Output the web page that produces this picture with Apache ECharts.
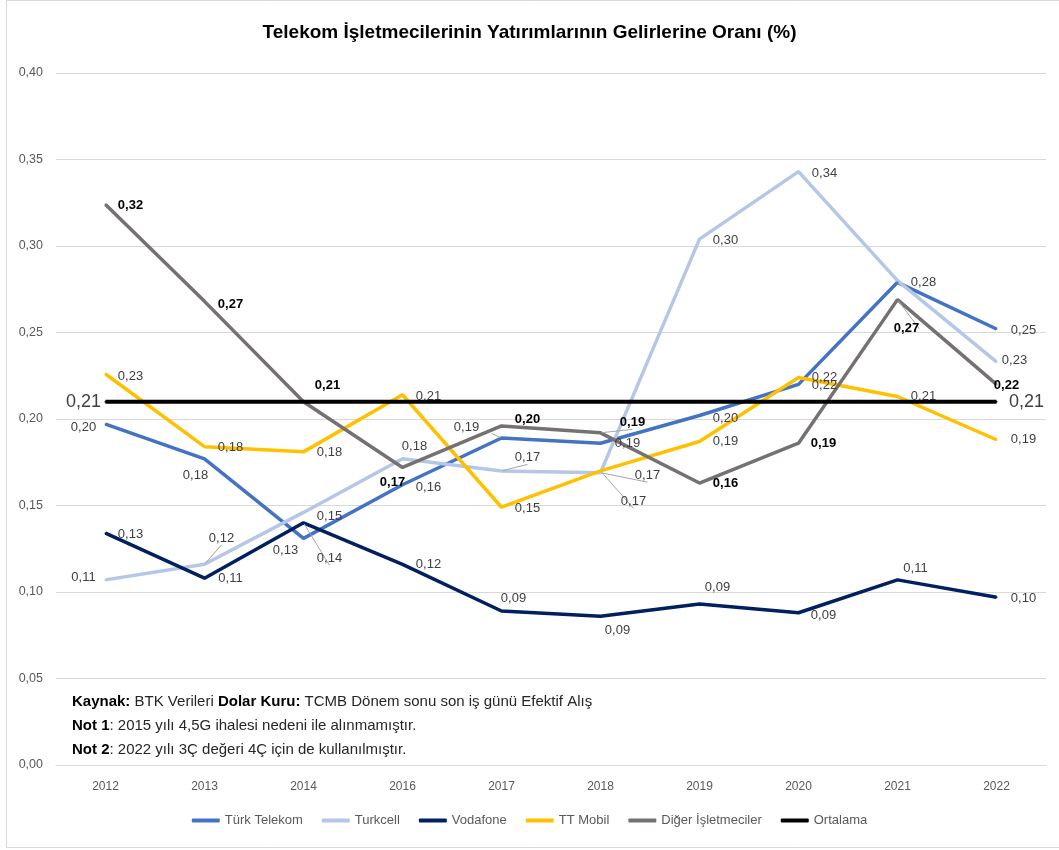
<!DOCTYPE html>
<html>
<head>
<meta charset="utf-8">
<script src="https://cdn.jsdelivr.net/npm/echarts@6/dist/echarts.min.js"></script>
<style>
  html, body { margin: 0; padding: 0; background: #fff; }
  #chart { width: 1059px; height: 850px; }
</style>
</head>
<body>
<div id="chart"></div>
<script>
// yıllar (2015 yok)
var years = ['2012', '2013', '2014', '2016', '2017', '2018', '2019', '2020', '2021', '2022'];

var turkTelekom = [0.197, 0.177, 0.131, 0.162, 0.189, 0.186, 0.202, 0.220, 0.279, 0.252];
var turkcell    = [0.107, 0.116, 0.146, 0.177, 0.170, 0.169, 0.304, 0.343, 0.280, 0.233];
var vodafone    = [0.134, 0.108, 0.140, 0.116, 0.089, 0.086, 0.093, 0.088, 0.107, 0.097];
var ttMobil     = [0.226, 0.184, 0.181, 0.214, 0.149, 0.170, 0.187, 0.224, 0.213, 0.188];
var diger       = [0.324, 0.268, 0.210, 0.172, 0.196, 0.192, 0.163, 0.186, 0.269, 0.220];
var ortalama    = [0.21, 0.21, 0.21, 0.21, 0.21, 0.21, 0.21, 0.21, 0.21, 0.21];

var yTicks = [0, 0.05, 0.10, 0.15, 0.20, 0.25, 0.30, 0.35, 0.40];

// etiket kaydırmaları [dx, dy, kılavuz çizgi]
var ttOff = [[-22, 3], [-9, 17], [-18, 12], [26, 3], [-35, -11, 1], [27, 0], [26, 3], [26, 1], [26, 0], [27, 1]];
var tcOff = [[-22, -2], [17, -26, 1], [26, 4], [12, -12], [26, -13, 1], [47, 3, 1], [26, 1], [26, 2], null, [18, -1]];
var vfOff = [[25, 1], [26, 0], [26, 36, 1], [26, 0], [12, -13], [17, 14], [18, -17], [25, 3], [18, -11], [27, 1]];
var tmOff = [[25, 2], [26, 1], [26, 1], [26, 2], [26, 1], [33, 31, 1], [26, 0], [26, 0], [26, 0], [27, 0]];
var dgOff = [[25, 1], [26, 3], [24, -16], [-10, 15], [26, -6], [32, -10, 1], [26, 0], [25, 0], [9, 29, 1], [10, 1]];

function fmt(v) { return v.toFixed(2).replace('.', ','); }

function build(values, offs, labelStyle) {
  return values.map(function (v, i) {
    var o = offs[i];
    if (!o) return { value: v, label: { show: false } };
    return {
      value: v,
      label: Object.assign({ show: true, position: 'inside', offset: [o[0], o[1]] }, labelStyle),
      labelLine: { show: !!o[2], lineStyle: { color: '#a6a6a6', width: 1 } }
    };
  });
}

var lblNormal = { color: '#404040', fontSize: 13, fontFamily: 'Liberation Sans', formatter: function (p) { return fmt(p.value); } };
var lblBold = { color: '#000', fontSize: 13, fontWeight: 'bold', fontFamily: 'Liberation Sans', formatter: function (p) { return fmt(p.value); } };

function lineSeries(name, color, values, offs, lbl) {
  return {
    name: name,
    type: 'line',
    data: build(values, offs, lbl),
    symbol: 'circle',
    symbolSize: 2,
    itemStyle: { color: color },
    lineStyle: { color: color, width: 3.5 },
    z: 3
  };
}

var ortData = ortalama.map(function (v, i) {
  if (i === 0 || i === ortalama.length - 1) {
    return {
      value: v,
      label: {
        show: true, position: 'inside', offset: [i === 0 ? -22 : 30, 0],
        fontSize: 18, color: '#404040', fontFamily: 'Liberation Sans',
        formatter: function (p) { return fmt(p.value); }
      }
    };
  }
  return { value: v, label: { show: false } };
});

var chart = echarts.init(document.getElementById('chart'));
chart.setOption({
  animation: false,
  backgroundColor: '#fff',
  title: {
    text: 'Telekom İşletmecilerinin Yatırımlarının Gelirlerine Oranı (%)',
    left: 'center',
    top: 18,
    textStyle: { fontSize: 19, fontWeight: 'bold', color: '#000', fontFamily: 'Liberation Sans' }
  },
  grid: { left: 56, right: 13, top: 73, bottom: 85 },
  legend: {
    bottom: 18,
    left: 'center',
    icon: 'roundRect',
    itemWidth: 28,
    itemHeight: 4,
    itemGap: 19,
    textStyle: { color: '#595959', fontSize: 13, fontFamily: 'Liberation Sans' },
    data: ['Türk Telekom', 'Turkcell', 'Vodafone', 'TT Mobil', 'Diğer İşletmeciler', 'Ortalama']
  },
  xAxis: {
    type: 'category',
    data: years,
    boundaryGap: true,
    axisLine: { lineStyle: { color: '#d9d9d9', width: 1 } },
    axisTick: { show: false },
    axisLabel: { color: '#595959', fontSize: 12, margin: 16, fontFamily: 'Liberation Sans' }
  },
  yAxis: {
    type: 'value',
    min: yTicks[0],
    max: yTicks[yTicks.length - 1],
    interval: 0.05,
    axisLine: { show: false },
    axisTick: { show: false },
    splitLine: { lineStyle: { color: '#d9d9d9', width: 1 } },
    axisLabel: { color: '#595959', fontSize: 12.5, margin: 13, fontFamily: 'Liberation Sans', formatter: fmt }
  },
  graphic: [
    {
      type: 'rect', silent: true,
      shape: { x: 6.5, y: 0.5, width: 1070, height: 847 },
      style: { fill: null, stroke: '#d9d9d9', lineWidth: 1 }
    },
    {
      type: 'text', left: 72, top: 690,
      style: {
        text: '{b|Kaynak:} BTK Verileri {b|Dolar Kuru:} TCMB Dönem sonu son iş günü Efektif Alış\n' +
              '{b|Not 1}: 2015 yılı 4,5G ihalesi nedeni ile alınmamıştır.\n' +
              '{b|Not 2}: 2022 yılı 3Ç değeri 4Ç için de kullanılmıştır.',
        font: '15px "Liberation Sans"',
        fill: '#262626',
        lineHeight: 24,
        rich: { b: { fontWeight: 'bold', fontSize: 15, fill: '#000', lineHeight: 24, fontFamily: 'Liberation Sans' } }
      }
    }
  ],
  series: [
    lineSeries('Türk Telekom', '#4472C4', turkTelekom, ttOff, lblNormal),
    lineSeries('Turkcell', '#B4C7E7', turkcell, tcOff, lblNormal),
    lineSeries('Vodafone', '#002060', vodafone, vfOff, lblNormal),
    lineSeries('TT Mobil', '#FFC000', ttMobil, tmOff, lblNormal),
    lineSeries('Diğer İşletmeciler', '#767171', diger, dgOff, lblBold),
    {
      name: 'Ortalama',
      type: 'line',
      data: ortData,
      symbol: 'circle',
      symbolSize: 2,
      itemStyle: { color: '#000' },
      lineStyle: { color: '#000', width: 4 },
      z: 4
    }
  ]
});
</script>
</body>
</html>
